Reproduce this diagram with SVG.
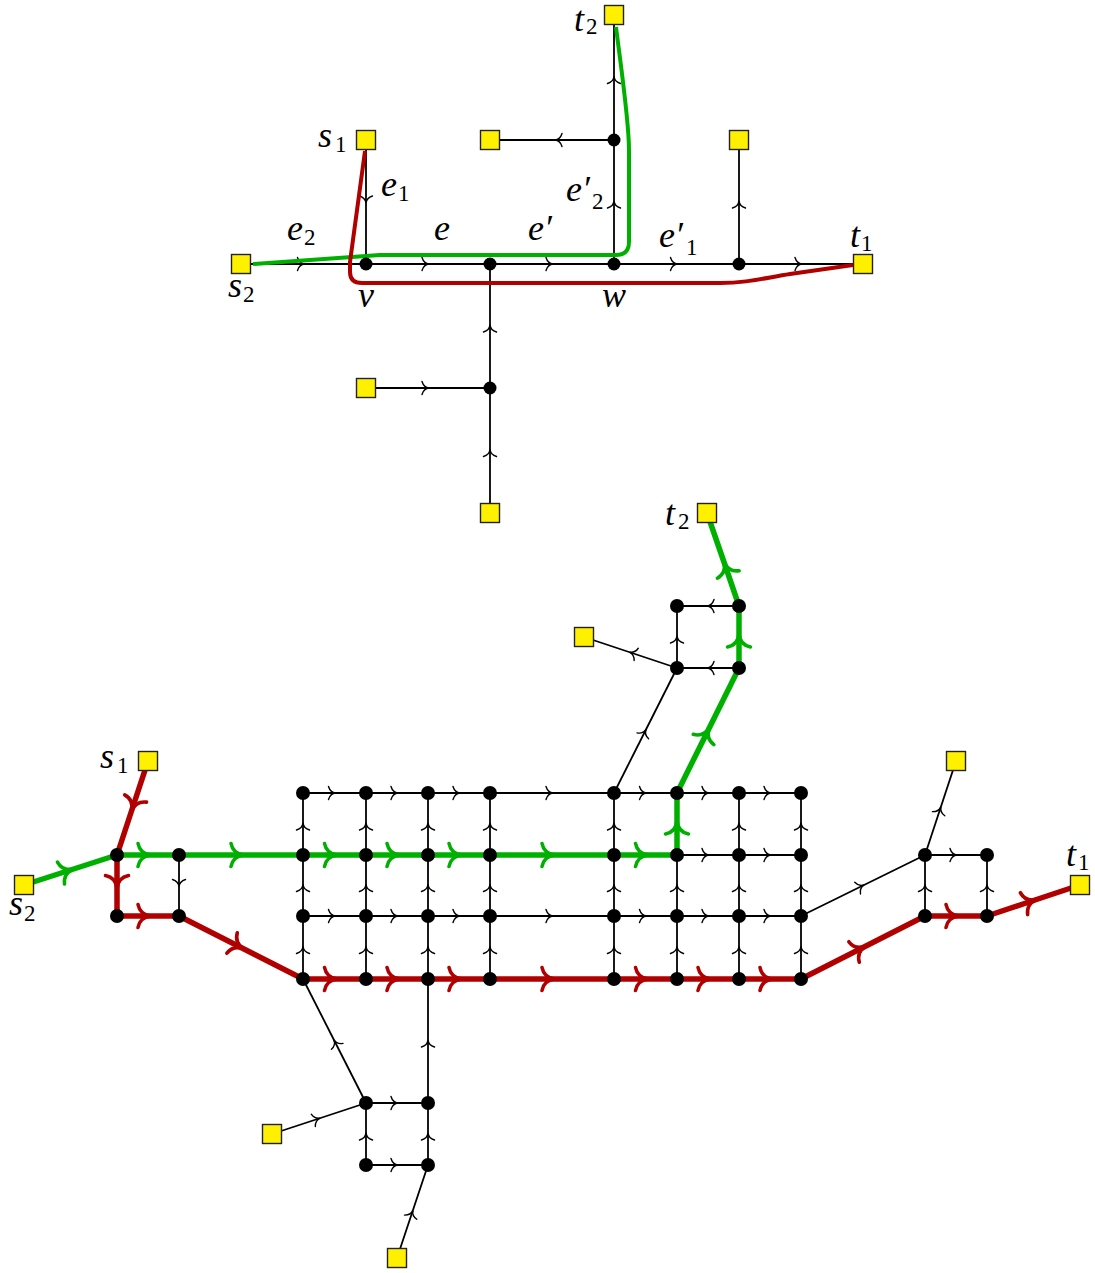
<svg xmlns="http://www.w3.org/2000/svg" width="1095" height="1273" viewBox="0 0 1095 1273">
<style>
.e{fill:none;stroke:#000;stroke-width:1.8;marker-mid:url(#ab)}
.g{fill:none;stroke:#00b000;stroke-width:5.5;marker-mid:url(#ag)}
.r{fill:none;stroke:#b00000;stroke-width:5.5;marker-mid:url(#ar)}
.gp{fill:none;stroke:#00b000;stroke-width:4;stroke-linejoin:round}
.rp{fill:none;stroke:#b00000;stroke-width:4;stroke-linejoin:round}
.n{fill:#000}
.sq{fill:#fff000;stroke:#222;stroke-width:1.4}
.l{font-family:"Liberation Serif","DejaVu Serif",serif;font-style:italic;font-size:36px;fill:#000}
.s{font-family:"Liberation Serif","DejaVu Serif",serif;font-size:23px;fill:#000}
</style>
<defs>
<marker id="ab" markerUnits="userSpaceOnUse" orient="auto" overflow="visible" markerWidth="16" markerHeight="16" refX="0" refY="0">
<path d="M-6,-6.5 C-4.8,-2.5 -2.2,-0.4 1.2,0 C-2.2,0.4 -4.8,2.5 -6,6.5" fill="none" stroke="#000" stroke-width="1.4" stroke-linecap="round"/>
</marker>
<marker id="ag" markerUnits="userSpaceOnUse" orient="auto" overflow="visible" markerWidth="30" markerHeight="30" refX="0" refY="0">
<path d="M-10,-11.5 C-8.5,-4 -4,-0.7 3,0 C-4,0.7 -8.5,4 -10,11.5" fill="none" stroke="#00b000" stroke-width="3.6" stroke-linecap="round"/>
</marker>
<marker id="ar" markerUnits="userSpaceOnUse" orient="auto" overflow="visible" markerWidth="30" markerHeight="30" refX="0" refY="0">
<path d="M-10,-11.5 C-8.5,-4 -4,-0.7 3,0 C-4,0.7 -8.5,4 -10,11.5" fill="none" stroke="#b00000" stroke-width="3.6" stroke-linecap="round"/>
</marker>
</defs>
<rect width="1095" height="1273" fill="#fff"/>

<g id="connectors">
<path class="e" d="M366,140 L366,202 L366,264"/>
<path class="e" d="M241,264 L303.5,264 L366,264"/>
<path class="e" d="M366,264 L428,264 L490,264"/>
<path class="e" d="M490,264 L552,264 L614,264"/>
<path class="e" d="M614,264 L676.5,264 L739,264"/>
<path class="e" d="M739,264 L801,264 L863,264"/>
<path class="e" d="M614,264 L614,202 L614,140"/>
<path class="e" d="M614,140 L614,77.5 L614,15"/>
<path class="e" d="M614,140 L556,140 L490,140"/>
<path class="e" d="M739,264 L739,202 L739,140"/>
<path class="e" d="M490,388 L490,326 L490,264"/>
<path class="e" d="M366,388 L428,388 L490,388"/>
<path class="e" d="M490,513 L490,450.5 L490,388"/>
<path class="gp" d="M253,264 L380,255 L616,255 Q629,255 629,242 L629,150 C629,120 620,60 616,27"/>
<path class="rp" d="M365,151 L350,262 L350,272 Q350,283 362,283 L720,283 C745,283 760,279 790,274 L853,265"/>

<path class="e" d="M303,793 L334.5,793 L366,793"/>
<path class="e" d="M366,793 L397,793 L428,793"/>
<path class="e" d="M428,793 L459,793 L490,793"/>
<path class="e" d="M490,793 L552,793 L614,793"/>
<path class="e" d="M614,793 L645.5,793 L677,793"/>
<path class="e" d="M677,793 L708,793 L739,793"/>
<path class="e" d="M739,793 L770,793 L801,793"/>
<path class="e" d="M677,855 L708,855 L739,855"/>
<path class="e" d="M739,855 L770,855 L801,855"/>
<path class="e" d="M303,916 L334.5,916 L366,916"/>
<path class="e" d="M366,916 L397,916 L428,916"/>
<path class="e" d="M428,916 L459,916 L490,916"/>
<path class="e" d="M490,916 L552,916 L614,916"/>
<path class="e" d="M614,916 L645.5,916 L677,916"/>
<path class="e" d="M677,916 L708,916 L739,916"/>
<path class="e" d="M739,916 L770,916 L801,916"/>

<path class="e" d="M303,979 L303,947.5 L303,916"/><path class="e" d="M303,916 L303,885.5 L303,855"/><path class="e" d="M303,855 L303,824 L303,793"/>
<path class="e" d="M366,979 L366,947.5 L366,916"/><path class="e" d="M366,916 L366,885.5 L366,855"/><path class="e" d="M366,855 L366,824 L366,793"/>
<path class="e" d="M428,979 L428,947.5 L428,916"/><path class="e" d="M428,916 L428,885.5 L428,855"/><path class="e" d="M428,855 L428,824 L428,793"/>
<path class="e" d="M490,979 L490,947.5 L490,916"/><path class="e" d="M490,916 L490,885.5 L490,855"/><path class="e" d="M490,855 L490,824 L490,793"/>
<path class="e" d="M614,979 L614,947.5 L614,916"/><path class="e" d="M614,916 L614,885.5 L614,855"/><path class="e" d="M614,855 L614,824 L614,793"/>
<path class="e" d="M677,979 L677,947.5 L677,916"/><path class="e" d="M677,916 L677,885.5 L677,855"/>
<path class="e" d="M739,979 L739,947.5 L739,916"/><path class="e" d="M739,916 L739,885.5 L739,855"/><path class="e" d="M739,855 L739,824 L739,793"/>
<path class="e" d="M801,979 L801,947.5 L801,916"/><path class="e" d="M801,916 L801,885.5 L801,855"/><path class="e" d="M801,855 L801,824 L801,793"/>
<path class="e" d="M179,855 L179,885.5 L179,916"/>
<path class="e" d="M428,1103 L428,1041 L428,979"/>

<path class="e" d="M614,793 L645.5,730.5 L677,668"/>
<path class="e" d="M739,668 L708,668 L677,668"/>
<path class="e" d="M739,606 L708,606 L677,606"/>
<path class="e" d="M677,668 L677,637 L677,606"/>
<path class="e" d="M677,668 L630.5,652.5 L584,637"/>

<path class="e" d="M801,916 L863,885.5 L925,855"/>
<path class="e" d="M925,855 L956,855 L987,855"/>
<path class="e" d="M925,916 L925,885.5 L925,855"/>
<path class="e" d="M987,916 L987,885.5 L987,855"/>
<path class="e" d="M925,855 L940.5,808 L956,761"/>

<path class="e" d="M366,1103 L334.5,1041 L303,979"/>
<path class="e" d="M272,1134 L319,1118.5 L366,1103"/>
<path class="e" d="M366,1103 L397,1103 L428,1103"/>
<path class="e" d="M366,1165 L366,1134 L366,1103"/>
<path class="e" d="M428,1165 L428,1134 L428,1103"/>
<path class="e" d="M366,1165 L397,1165 L428,1165"/>
<path class="e" d="M397,1258 L412.5,1211.5 L428,1165"/>

<path class="g" d="M24,885 L70.5,870 L117,855"/>
<path class="g" d="M117,855 L148,855 L179,855"/>
<path class="g" d="M179,855 L241,855 L303,855"/>
<path class="g" d="M303,855 L334.5,855 L366,855"/>
<path class="g" d="M366,855 L397,855 L428,855"/>
<path class="g" d="M428,855 L459,855 L490,855"/>
<path class="g" d="M490,855 L552,855 L614,855"/>
<path class="g" d="M614,855 L645.5,855 L677,855"/>
<path class="g" d="M677,855 L677,824 L677,793"/>
<path class="g" d="M677,793 L708,730.5 L739,668"/>
<path class="g" d="M739,668 L739,637 L739,606"/>
<path class="g" d="M739,606 L725,565 L707,513"/>

<path class="r" d="M148,761 L132.5,808 L117,855"/>
<path class="r" d="M117,855 L117,885.5 L117,916"/>
<path class="r" d="M117,916 L148,916 L179,916"/>
<path class="r" d="M179,916 L241,947.5 L303,979"/>
<path class="r" d="M303,979 L334.5,979 L366,979"/>
<path class="r" d="M366,979 L397,979 L428,979"/>
<path class="r" d="M428,979 L459,979 L490,979"/>
<path class="r" d="M490,979 L552,979 L614,979"/>
<path class="r" d="M614,979 L645.5,979 L677,979"/>
<path class="r" d="M677,979 L708,979 L739,979"/>
<path class="r" d="M739,979 L770,979 L801,979"/>
<path class="r" d="M801,979 L863,947.5 L925,916"/>
<path class="r" d="M925,916 L956,916 L987,916"/>
<path class="r" d="M987,916 L1033.5,900.5 L1080,885"/>
</g>

<g id="top-s1"><rect class="sq" x="356.5" y="130.5" width="19" height="19"/><text class="l" x="318" y="147">s</text><text class="s" x="335" y="152">1</text></g>
<g id="top-t2"><rect class="sq" x="604.5" y="5.5" width="19" height="19"/><text class="l" x="574" y="31">t</text><text class="s" x="586" y="34">2</text></g>
<g id="top-sq-490-140"><rect class="sq" x="480.5" y="130.5" width="19" height="19"/></g>
<g id="top-sq-739-140"><rect class="sq" x="729.5" y="130.5" width="19" height="19"/></g>
<g id="top-s2"><rect class="sq" x="231.5" y="254.5" width="19" height="19"/><text class="l" x="228" y="297">s</text><text class="s" x="243" y="302">2</text></g>
<g id="top-t1"><rect class="sq" x="853.5" y="254.5" width="19" height="19"/><text class="l" x="850" y="247">t</text><text class="s" x="861" y="251">1</text></g>
<g id="top-sq-366-388"><rect class="sq" x="356.5" y="378.5" width="19" height="19"/></g>
<g id="top-sq-490-513"><rect class="sq" x="480.5" y="503.5" width="19" height="19"/></g>
<g id="top-v"><circle class="n" cx="366" cy="264" r="6.5"/><text class="l" x="358" y="307">v</text></g>
<g id="top-w"><circle class="n" cx="614" cy="264" r="6.5"/><text class="l" x="602" y="307">w</text></g>
<g id="top-n490"><circle class="n" cx="490" cy="264" r="6.5"/></g>
<g id="top-n739"><circle class="n" cx="739" cy="264" r="6.5"/></g>
<g id="top-n614-140"><circle class="n" cx="614" cy="140" r="6.5"/></g>
<g id="top-n490-388"><circle class="n" cx="490" cy="388" r="6.5"/></g>
<g id="top-labels">
<text class="l" x="381" y="196">e</text><text class="s" x="398" y="201">1</text>
<text class="l" x="287" y="240">e</text><text class="s" x="304" y="245">2</text>
<text class="l" x="434" y="240">e</text>
<text class="l" x="528" y="240">e′</text>
<text class="l" x="566" y="201">e′</text><text class="s" x="592" y="209">2</text>
<text class="l" x="659" y="247">e′</text><text class="s" x="686" y="255">1</text>
</g>

<g id="b-t2"><rect class="sq" x="697.5" y="503.5" width="19" height="19"/><text class="l" x="665" y="525">t</text><text class="s" x="678" y="529">2</text></g>
<g id="b-sq-584-637"><rect class="sq" x="574.5" y="627.5" width="19" height="19"/></g>
<g id="b-s1"><rect class="sq" x="138.5" y="751.5" width="19" height="19"/><text class="l" x="100" y="768">s</text><text class="s" x="117" y="773">1</text></g>
<g id="b-s2"><rect class="sq" x="14.5" y="875.5" width="19" height="19"/><text class="l" x="9" y="915">s</text><text class="s" x="24" y="921">2</text></g>
<g id="b-sq-956-761"><rect class="sq" x="946.5" y="751.5" width="19" height="19"/></g>
<g id="b-t1"><rect class="sq" x="1070.5" y="875.5" width="19" height="19"/><text class="l" x="1066" y="866">t</text><text class="s" x="1078" y="870">1</text></g>
<g id="b-sq-272-1134"><rect class="sq" x="262.5" y="1124.5" width="19" height="19"/></g>
<g id="b-sq-397-1258"><rect class="sq" x="387.5" y="1248.5" width="19" height="19"/></g>

<g id="b-grid-nodes">
<circle class="n" cx="303" cy="793" r="7"/><circle class="n" cx="366" cy="793" r="7"/><circle class="n" cx="428" cy="793" r="7"/><circle class="n" cx="490" cy="793" r="7"/><circle class="n" cx="614" cy="793" r="7"/><circle class="n" cx="677" cy="793" r="7"/><circle class="n" cx="739" cy="793" r="7"/><circle class="n" cx="801" cy="793" r="7"/>
<circle class="n" cx="303" cy="855" r="7"/><circle class="n" cx="366" cy="855" r="7"/><circle class="n" cx="428" cy="855" r="7"/><circle class="n" cx="490" cy="855" r="7"/><circle class="n" cx="614" cy="855" r="7"/><circle class="n" cx="677" cy="855" r="7"/><circle class="n" cx="739" cy="855" r="7"/><circle class="n" cx="801" cy="855" r="7"/>
<circle class="n" cx="303" cy="916" r="7"/><circle class="n" cx="366" cy="916" r="7"/><circle class="n" cx="428" cy="916" r="7"/><circle class="n" cx="490" cy="916" r="7"/><circle class="n" cx="614" cy="916" r="7"/><circle class="n" cx="677" cy="916" r="7"/><circle class="n" cx="739" cy="916" r="7"/><circle class="n" cx="801" cy="916" r="7"/>
<circle class="n" cx="303" cy="979" r="7"/><circle class="n" cx="366" cy="979" r="7"/><circle class="n" cx="428" cy="979" r="7"/><circle class="n" cx="490" cy="979" r="7"/><circle class="n" cx="614" cy="979" r="7"/><circle class="n" cx="677" cy="979" r="7"/><circle class="n" cx="739" cy="979" r="7"/><circle class="n" cx="801" cy="979" r="7"/>
</g>
<g id="b-left-nodes">
<circle class="n" cx="117" cy="855" r="7"/><circle class="n" cx="179" cy="855" r="7"/><circle class="n" cx="117" cy="916" r="7"/><circle class="n" cx="179" cy="916" r="7"/>
</g>
<g id="b-right-nodes">
<circle class="n" cx="925" cy="855" r="7"/><circle class="n" cx="987" cy="855" r="7"/><circle class="n" cx="925" cy="916" r="7"/><circle class="n" cx="987" cy="916" r="7"/>
</g>
<g id="b-top-nodes">
<circle class="n" cx="677" cy="606" r="7"/><circle class="n" cx="739" cy="606" r="7"/><circle class="n" cx="677" cy="668" r="7"/><circle class="n" cx="739" cy="668" r="7"/>
</g>
<g id="b-bottom-nodes">
<circle class="n" cx="366" cy="1103" r="7"/><circle class="n" cx="428" cy="1103" r="7"/><circle class="n" cx="366" cy="1165" r="7"/><circle class="n" cx="428" cy="1165" r="7"/>
</g>
</svg>
